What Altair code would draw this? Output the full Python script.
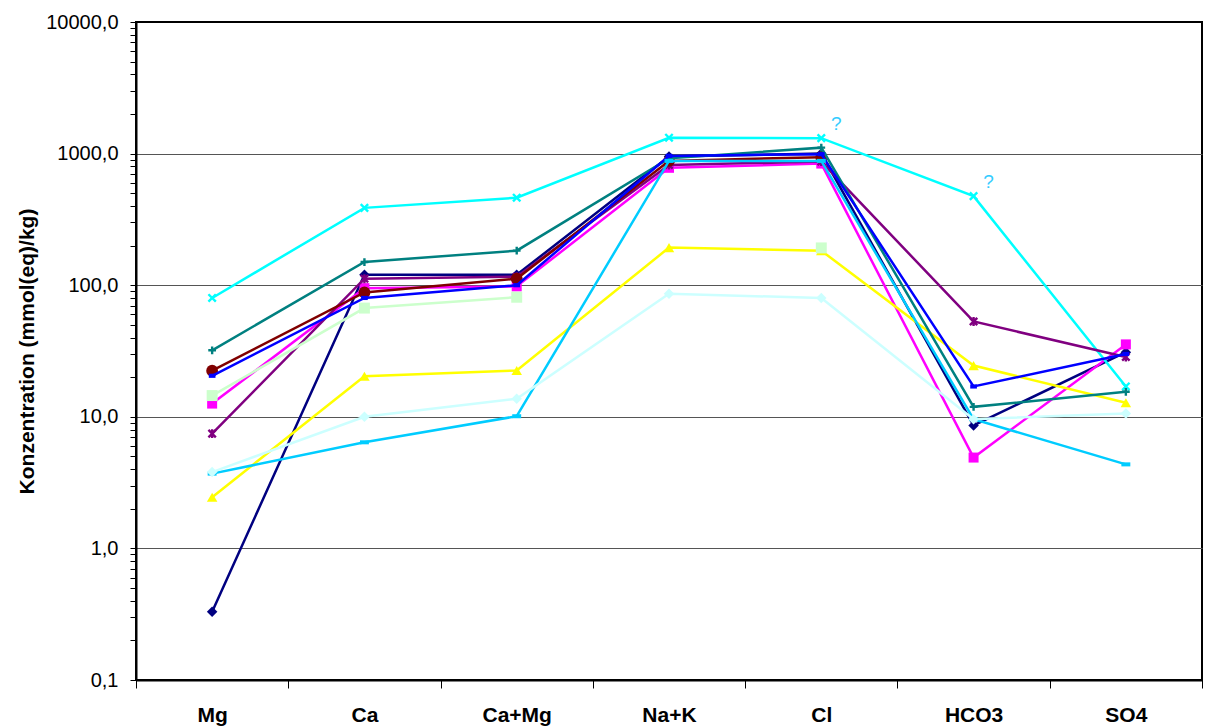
import altair as alt
import pandas as pd

# Ion groups along the x axis
categories = ["Mg", "Ca", "Ca+Mg", "Na+K", "Cl", "HCO3", "SO4"]

# Concentrations in mmol(eq)/kg, one list per water sample (None = not measured)
probe_01 = [0.33, 120, 120, 950, 1000, 8.6, 31]
probe_02 = [12.6, 95, 98, 780, 840, 4.9, 35.5]
probe_03 = [2.45, 20.3, 22.5, 193, 183, 24.5, 12.8]
probe_04 = [80, 387, 462, 1320, 1310, 475, 17]
probe_05 = [7.45, 112, 116, 820, 870, 53, 28.5]
probe_06 = [22.4, 88, 112, 880, 940, None, None]
probe_07 = [32, 150, 183, 920, 1110, 11.9, 15.5]
probe_08 = [20.5, 80, 100, 960, 990, 17, 30]
probe_09 = [3.7, 6.4, 10.1, 880, 880, 9.6, 4.35]
probe_10 = [3.8, 10, 13.7, 86, 80, 9.6, 10.6]
probe_11 = [14.5, 67, 81, None, 192, None, None]

samples = {
    "Probe 1": probe_01, "Probe 2": probe_02, "Probe 3": probe_03,
    "Probe 4": probe_04, "Probe 5": probe_05, "Probe 6": probe_06,
    "Probe 7": probe_07, "Probe 8": probe_08, "Probe 9": probe_09,
    "Probe 10": probe_10, "Probe 11": probe_11,
}

# Marker paths
P_X = "M-1,-1L1,1M-1,1L1,-1"
P_STAR = "M-1,-1L1,1M-1,1L1,-1M0,-1.2L0,1.2"
P_PLUS = "M-1,0L1,0M0,-1L0,1"
P_BAR = "M-1,-0.45L1,-0.45L1,0.45L-1,0.45Z"
P_SBAR = "M-0.8,-0.5L0.8,-0.5L0.8,0.5L-0.8,0.5Z"

# series -> (colour, marker shape, filled, marker size)
styles = {
    "Probe 1": ("#000080", "diamond", True, 110),
    "Probe 2": ("#FF00FF", "square", True, 100),
    "Probe 3": ("#FFFF00", "triangle-up", True, 110),
    "Probe 4": ("#00FFFF", P_X, False, 55),
    "Probe 5": ("#800080", P_STAR, False, 55),
    "Probe 6": ("#800000", "circle", True, 140),
    "Probe 7": ("#008080", P_PLUS, False, 60),
    "Probe 8": ("#0000FF", P_SBAR, True, 70),
    "Probe 9": ("#00CCFF", P_BAR, True, 80),
    "Probe 10": ("#CCFFFF", "diamond", True, 110),
    "Probe 11": ("#CCFFCC", "square", True, 120),
}

rows = []
for name, values in samples.items():
    for cat, v in zip(categories, values):
        rows.append({"probe": name, "ion": cat, "wert": v})
df = pd.DataFrame(rows)

decades = [0.1, 1, 10, 100, 1000, 10000]
minor = [k * 10.0 ** e for e in range(-1, 4) for k in range(2, 10)]
tick_values = sorted(decades + minor)

FONT = "Liberation Sans"

x_enc = alt.X(
    "ion:N",
    sort=categories,
    bandPosition=0.5,
    scale=alt.Scale(type="band", domain=categories, paddingInner=0, paddingOuter=0),
    axis=alt.Axis(
        title=None,
        tickBand="extent",
        tickSize=8,
        tickColor="#000000",
        tickWidth=1,
        domainColor="#000000",
        domainWidth=2,
        labelFont=FONT,
        labelFontSize=21,
        labelFontWeight="bold",
        labelColor="#000000",
        labelPadding=16,
        labelAngle=0,
    ),
)

dec_test = "indexof([0.1, 1, 10, 100, 1000, 10000], datum.value) >= 0"
grid_test = "indexof([1, 10, 100, 1000], datum.value) >= 0"

y_enc = alt.Y(
    "wert:Q",
    scale=alt.Scale(type="log", domain=[0.1, 10000], nice=False),
    axis=alt.Axis(
        title="Konzentration (mmol(eq)/kg)",
        titleFont=FONT,
        titleFontSize=21,
        titleFontWeight="bold",
        titleColor="#000000",
        titlePadding=8,
        values=tick_values,
        labelExpr=f"{dec_test} ? replace(format(datum.value, '.1f'), '.', ',') : ''",
        labelFont=FONT,
        labelFontSize=20,
        labelColor="#000000",
        labelOverlap=False,
        labelPadding=12,
        tickSize=6,
        tickColor="#000000",
        tickWidth=1,
        domainColor="#000000",
        domainWidth=2,
        grid=True,
        gridColor="#555555",
        gridWidth=1.2,
        gridOpacity={"condition": {"test": grid_test, "value": 1}, "value": 0},
    ),
)

layers = []
for name in samples:
    color, shape, filled, size = styles[name]
    base = alt.Chart(df).transform_filter(alt.datum.probe == name)
    line = base.mark_line(color=color, strokeWidth=2.5).encode(x=x_enc, y=y_enc)
    pts = base.transform_filter("isValid(datum.wert)").mark_point(
        shape=shape,
        filled=filled,
        size=size,
        color=color,
        strokeWidth=2.4 if not filled else 0,
        opacity=1,
    ).encode(x=x_enc, y=y_enc)
    layers += [line, pts]

# question marks next to the uncertain values of sample 4
marks_q = (
    alt.Chart(df)
    .transform_filter((alt.datum.probe == "Probe 4") & ((alt.datum.ion == "Cl") | (alt.datum.ion == "HCO3")))
    .mark_text(text="?", color="#33CCFF", font=FONT, fontSize=19, dx=15, dy=-14, align="center", baseline="middle")
    .encode(x=x_enc, y=y_enc)
)
layers.append(marks_q)

chart = (
    alt.layer(*layers)
    .properties(
        width=1066,
        height=658,
        autosize=alt.AutoSizeParams(type="none"),
        padding={"left": 136, "top": 22, "right": 3, "bottom": 48},
        background="#FFFFFF",
    )
    .configure_view(stroke="#000000", strokeWidth=2)
)

chart.save("out.html", embed_options={"renderer": "svg", "actions": False})
